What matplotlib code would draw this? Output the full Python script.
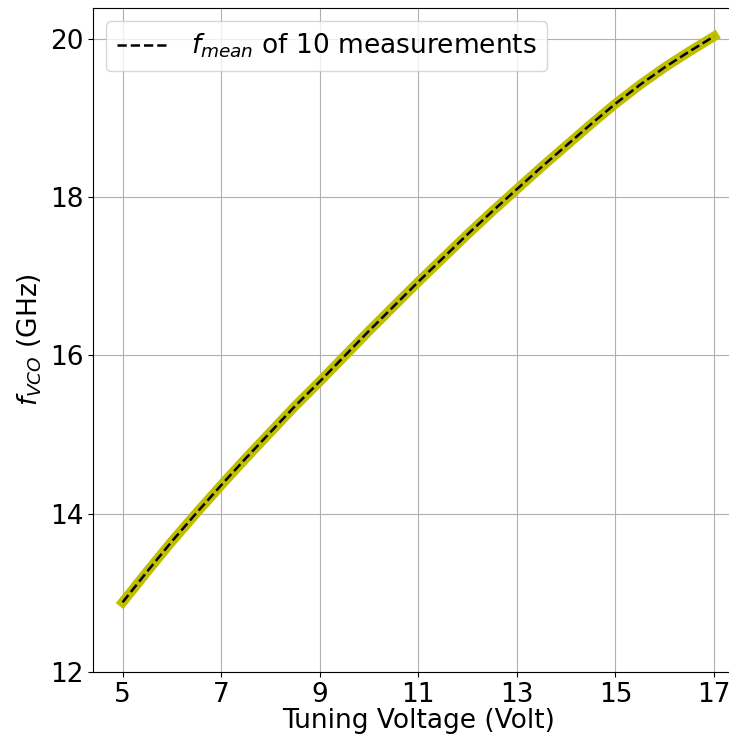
import matplotlib
matplotlib.use("Agg")
import matplotlib.pyplot as plt

# tuning voltage sweep (0.5 V steps) and averaged VCO frequency in GHz
tuning_voltage = [5.0, 5.5, 6.0, 6.5, 7.0, 7.5, 8.0, 8.5, 9.0, 9.5, 10.0, 10.5,
                  11.0, 11.5, 12.0, 12.5, 13.0, 13.5, 14.0, 14.5, 15.0, 15.5,
                  16.0, 16.5, 17.0]
f_mean = [12.88, 13.27, 13.65, 14.01, 14.36, 14.70, 15.03, 15.36, 15.67,
          15.99, 16.31, 16.62, 16.93, 17.23, 17.53, 17.82, 18.10, 18.38,
          18.65, 18.92, 19.18, 19.42, 19.64, 19.84, 20.03]

x_ticks = [5, 7, 9, 11, 13, 15, 17]
y_ticks = [12, 14, 16, 18, 20]

plt.rcParams['font.size'] = 19

fig = plt.figure(figsize=(7.29, 7.36), dpi=100)
ax = fig.add_axes([0.1276, 0.087, 0.8925, 0.902])

ax.plot(tuning_voltage, f_mean, color='y', linewidth=7)
ax.plot(tuning_voltage, f_mean, color='black', linestyle='--', linewidth=1.8,
        label=r'$f_{mean}$ of 10 measurements')

ax.set_xticks(x_ticks)
ax.set_yticks(y_ticks)
ax.set_ylim(bottom=12)

ax.set_xlabel("Tuning Voltage (Volt)", labelpad=0)
ax.set_ylabel(r"$f_{VCO}$ (GHz)")
ax.grid(True)
ax.legend(loc='upper left')

fig.savefig("out.png", dpi=100)
